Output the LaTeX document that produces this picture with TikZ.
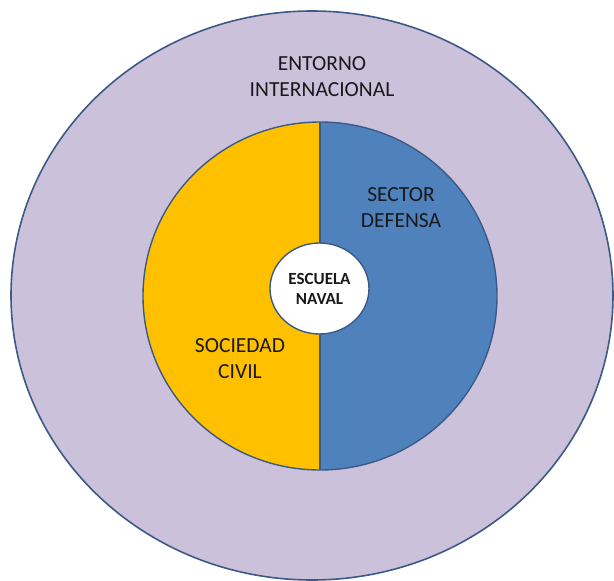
\documentclass[tikz,border=0pt]{standalone}
\usepackage{fontspec}
\setmainfont{Carlito}
\usepackage{tikz}
\usetikzlibrary{calc,shapes.geometric}
\definecolor{entorno}{RGB}{204,193,218}
\definecolor{rim}{RGB}{60,90,135}
\definecolor{civil}{RGB}{255,192,0}
\definecolor{defensa}{RGB}{79,129,189}
\definecolor{ink}{RGB}{25,25,25}
\def\textnode{\node[align=center,font=\fontsize{21.5}{26}\selectfont,text=ink]}

\begin{document}
\begin{tikzpicture}[x=1pt,y=-1pt]
\useasboundingbox (0,0) rectangle (614,581);
\coordinate (c) at (320,296);
% outer ring
\draw[rim,line width=1.6pt,fill=entorno] (312,295.5) ellipse [x radius=301,y radius=284.5];
% halves
\fill[civil] (320,122) arc[start angle=270,end angle=90,x radius=177,y radius=174] -- cycle;
\fill[defensa] (320,122) arc[start angle=270,end angle=450,x radius=177,y radius=174] -- cycle;
\draw[rim,line width=1.4pt] (c) ellipse [x radius=177,y radius=174];
\draw[rim,line width=1.4pt] (320,122) -- (320,470);
\node[ellipse,draw=rim,line width=1.4pt,fill=white,minimum width=99pt,minimum height=91pt,inner sep=0pt,
  align=center,font=\fontsize{17}{20}\selectfont\bfseries,text=ink] (escuela) at (319.5,288.5) {ESCUELA\\NAVAL};
\textnode (entorno) at (322,77) {ENTORNO\\INTERNACIONAL};
\textnode (defensa) at (401,208) {SECTOR\\DEFENSA};
\textnode (civil) at (240,359) {SOCIEDAD\\CIVIL};
\end{tikzpicture}
\end{document}
